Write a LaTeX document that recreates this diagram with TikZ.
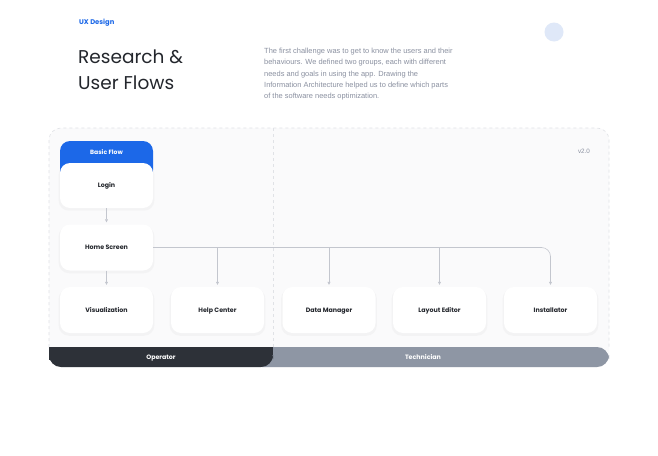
\documentclass[tikz,border=0pt]{standalone}
\usepackage{fontspec}
\setmainfont{Poppins}
\newfontfamily\bodyfont{Liberation Sans}
\usetikzlibrary{shadows,arrows.meta}
\definecolor{brand}{HTML}{1C68E8}
\definecolor{ink}{HTML}{23262C}
\definecolor{para}{HTML}{8A90A0}
\definecolor{panel}{HTML}{FAFAFB}
\definecolor{dashcol}{HTML}{E0E2E6}
\definecolor{wire}{HTML}{C3C6CE}
\definecolor{opbar}{HTML}{2D3138}
\definecolor{techbar}{HTML}{8E96A4}
\definecolor{dot}{HTML}{DFE8F8}
\tikzset{
  card/.style={fill=white, rounded corners=10pt, minimum width=93pt, minimum height=46pt,
    inner sep=0pt, text height=4.6pt, text depth=0pt, font=\fontsize{6.3}{7}\selectfont\bfseries, text=ink,
    drop shadow={opacity=0.05, shadow xshift=0pt, shadow yshift=-2pt, shadow scale=1.03}},
  barlabel/.style={text=white, text height=4.6pt, text depth=0pt, font=\fontsize{6.3}{7}\selectfont\bfseries},
  wireline/.style={draw=wire, line width=0.6pt},
  arr/.style={wireline, -{Triangle[length=3pt,width=3pt]}},
}
\begin{document}
\begin{tikzpicture}[x=1pt,y=-1pt]
\useasboundingbox[fill=white] (0,0) rectangle (658,455);
% header
\node[anchor=west, inner sep=0pt, text=brand, font=\fontsize{6.8}{8}\selectfont\bfseries] (ux) at (79,23) {UX Design};
\node[anchor=north west, text=ink, align=left, inner sep=0pt, font=\fontsize{18.5}{26}\selectfont] (title) at (78,50) {Research \&\\User Flows};
\node[anchor=north west, text=para, align=left, inner sep=0pt, font=\bodyfont\fontsize{7.45}{11.3}\selectfont] (para) at (264,48)
 {The first challenge was to get to know the users and their\\behaviours. We defined two groups, each with different\\needs and goals in using the app. Drawing the\\Information Architecture helped us to define which parts\\of the software needs optimization.};
\fill[dot] (554,32) circle (9.5);
% panel
\fill[panel, rounded corners=12pt] (49,128) rectangle (609,367);
\fill[techbar, rounded corners=12pt] (250,347) -- (609,347) -- (609,367) -- (250,367) -- cycle;
\fill[techbar] (250,347) rectangle (280,367);
\fill[opbar, rounded corners=12pt] (49,347) -- (273,347) -- (273,367) -- (49,367) -- cycle;
\fill[opbar] (49,347) rectangle (60,360);
\fill[opbar] (262,347) rectangle (273,355);
\draw[dashcol, dash pattern=on 3pt off 3pt, line width=0.6pt, rounded corners=12pt] (49,347) -- (49,128) -- (609,128) -- (609,347);
\draw[dashcol, dash pattern=on 3pt off 3pt, line width=0.6pt] (273,128) -- (273,347);
\node[barlabel] (op) at (161,357.5) {Operator};
\node[barlabel] (tech) at (423,357.5) {Technician};
\node[text=para, font=\bodyfont\fontsize{6.3}{7}\selectfont] (ver) at (584,151) {v2.0};
% basic flow tab
\fill[brand, rounded corners=10pt] (60,180) -- (60,141) -- (153,141) -- (153,180) -- cycle;
\node[text=white, text height=4.6pt, text depth=0pt, font=\fontsize{6.1}{7}\selectfont\bfseries] (bf) at (106.5,152.5) {Basic Flow};
% cards
\node[card, minimum height=45pt] (login) at (106.5,185.5) {Login};
\node[card, minimum height=46pt] (home) at (106.5,247.5) {Home Screen};
\node[card] (vis) at (106.5,310) {Visualization};
\node[card] (help) at (217.5,310) {Help Center};
\node[card] (data) at (329,310) {Data Manager};
\node[card] (layout) at (439.5,310) {Layout Editor};
\node[card] (inst) at (550.5,310) {Installator};
% connectors
\draw[arr] (login.south) -- ([yshift=2pt]home.north);
\draw[arr] (home.south) -- ([yshift=2pt]vis.north);
\draw[arr, rounded corners=9pt] (home.east) -| ([yshift=2pt]inst.north);
\draw[arr] (help.north |- home.east) -- ([yshift=2pt]help.north);
\draw[arr] (data.north |- home.east) -- ([yshift=2pt]data.north);
\draw[arr] (layout.north |- home.east) -- ([yshift=2pt]layout.north);
\end{tikzpicture}
\end{document}
